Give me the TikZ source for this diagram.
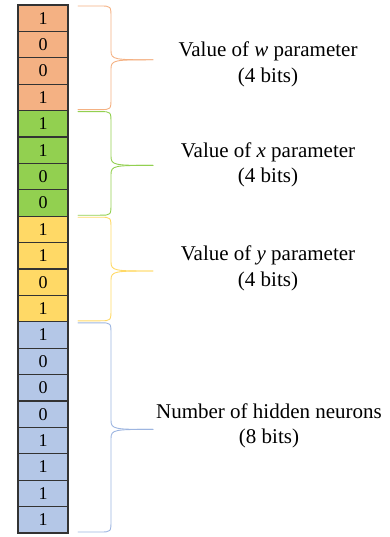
\documentclass[tikz,border=0pt]{standalone}
\usepackage{fontspec}
\setmainfont{Liberation Serif}
\usetikzlibrary{calc}
\definecolor{wfill}{HTML}{F4B183}
\definecolor{xfill}{HTML}{92D050}
\definecolor{yfill}{HTML}{FFD966}
\definecolor{nfill}{HTML}{B4C7E7}
\definecolor{nline}{HTML}{9DB5E0}
\newcommand\cellh{26.4}
% brace from the top of one cell to the bottom of another
\newcommand\drawbrace[3]{
  \draw[brace,#1] let \p1=(#2.north east), \p2=(#3.south east),
      \p3=($(#2.north east)!0.5!(#3.south east)$) in
    (\x1+10pt,\y1-1pt) -- (\x1+32pt,\y1-1pt)
    .. controls (\x1+43pt,\y1-1pt) .. (\x1+43pt,\y1-13pt)
    -- (\x1+43pt,\y3-2pt+9pt)
    .. controls (\x1+43pt,\y3-2pt) and (\x1+47pt,\y3-2pt) .. (\x1+85pt,\y3-2pt);
  \draw[brace,#1] let \p1=(#2.north east), \p2=(#3.south east),
      \p3=($(#2.north east)!0.5!(#3.south east)$) in
    (\x1+85pt,\y3-2pt)
    .. controls (\x1+47pt,\y3-2pt) and (\x1+43pt,\y3-2pt) .. (\x1+43pt,\y3-2pt-9pt)
    -- (\x1+43pt,\y2+13pt)
    .. controls (\x1+43pt,\y2+1pt) .. (\x1+32pt,\y2+1pt)
    -- (\x1+10pt,\y2+1pt);
}

\begin{document}
\begin{tikzpicture}[
    x=1pt,y=-1pt,
    cell/.style={draw=black!80,line width=1.2pt,minimum width=50pt,
      minimum height=\cellh pt,inner sep=0pt,outer sep=0pt,
      font=\fontsize{18}{18}\selectfont},
    brace/.style={line width=0.9pt,line cap=round},
    lbl/.style={align=center,font=\fontsize{21}{25.5}\selectfont}
  ]
    \useasboundingbox (0,0) rectangle (390,537);

    \foreach \i/\b/\c in {1/1/wfill,2/0/wfill,3/0/wfill,4/1/wfill,
        5/1/xfill,6/1/xfill,7/0/xfill,8/0/xfill,
        9/1/yfill,10/1/yfill,11/0/yfill,12/1/yfill,
        13/1/nfill,14/0/nfill,15/0/nfill,16/0/nfill,
        17/1/nfill,18/1/nfill,19/1/nfill,20/1/nfill}
      \node[cell,fill=\c] (c\i) at (43,\cellh*\i-8.2) {\b};

    \drawbrace{wfill}{c1}{c4}
    \drawbrace{xfill}{c5}{c8}
    \drawbrace{yfill}{c9}{c12}
    \drawbrace{nline}{c13}{c20}

    \node[lbl] (wtxt) at (268,64.5) {Value of \textit{w} parameter\\(4 bits)};
    \node[lbl] (xtxt) at (268,165) {Value of \textit{x} parameter\\(4 bits)};
    \node[lbl] (ytxt) at (268,268.5) {Value of \textit{y} parameter\\(4 bits)};
    \node[lbl] (ntxt) at (269,426) {Number of hidden neurons\\(8 bits)};
  \end{tikzpicture}
\end{document}
